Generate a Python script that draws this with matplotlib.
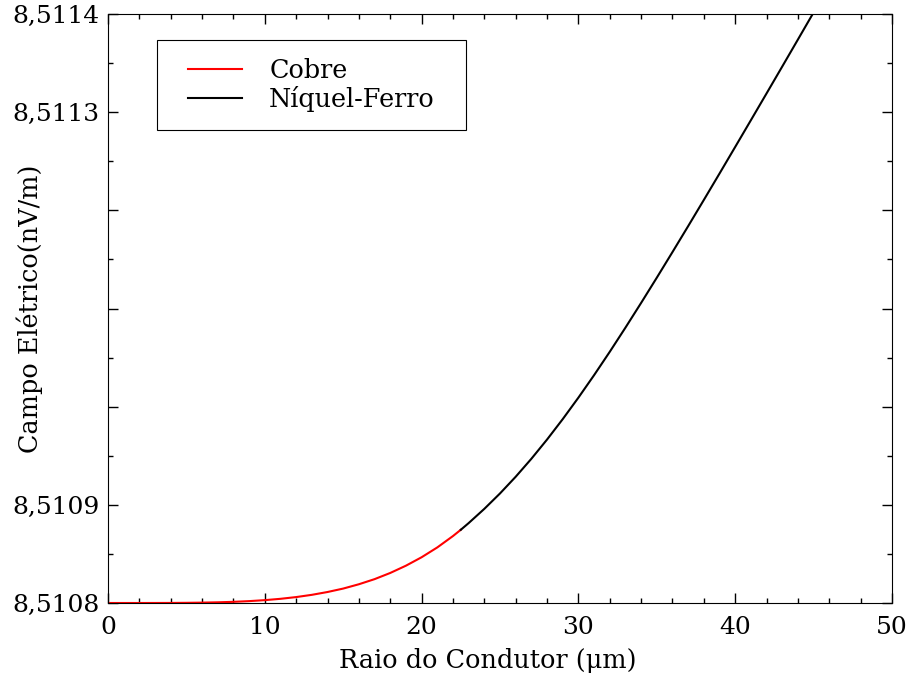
import matplotlib
matplotlib.use("Agg")
import matplotlib.pyplot as plt
from matplotlib.ticker import FixedLocator, MultipleLocator
from matplotlib.patches import Rectangle

# Raio do condutor (µm) and field offset above 8,5108 nV/m (in units of 1e-4)
r_cobre = [0, 1, 2, 3, 4, 5, 6, 7, 8, 9, 10, 11, 12, 13, 14, 15, 16, 17, 18,
           19, 20, 21, 22, 22.5]
d_cobre = [0.0, 0.00003, 0.00005, 0.00024, 0.0007, 0.0018, 0.0038, 0.007,
           0.0119, 0.0191, 0.0291, 0.0426, 0.0604, 0.0832, 0.112, 0.147,
           0.191, 0.243, 0.306, 0.380, 0.466, 0.566, 0.682, 0.746]

r_nife = [22.5, 23, 24, 25, 26, 27, 28, 29, 30, 31, 32, 33, 34, 35, 36, 37,
          38, 39, 40, 41, 42, 43, 44, 45, 46]
d_nife = [0.746, 0.814, 0.959, 1.116, 1.286, 1.469, 1.665, 1.873, 2.092,
          2.321, 2.559, 2.805, 3.057, 3.314, 3.575, 3.839, 4.106, 4.375,
          4.646, 4.918, 5.191, 5.465, 5.740, 6.016, 6.293]

base = 8.5108
y_cobre = [base + d * 1e-4 for d in d_cobre]
y_nife = [base + d * 1e-4 for d in d_nife]

ytick_vals = [8.5108, 8.5109, 8.5110, 8.5111, 8.5112, 8.5113, 8.5114]
ytick_labels = ["8,5108", "8,5109", "", "", "", "8,5113", "8,5114"]

plt.rcParams['font.family'] = ['DejaVu Serif']

W, H = 908, 681
fig = plt.figure(figsize=(W / 100, H / 100), dpi=100)
ax = fig.add_axes([108 / W, 1 - 603 / H, (892 - 108) / W, (603 - 14) / H])

ax.plot(r_cobre, y_cobre, color='red', lw=1.5, label='Cobre')
ax.plot(r_nife, y_nife, color='black', lw=1.5, label='Níquel-Ferro')

ax.set_xlim(0, 50)
ax.set_ylim(8.5108, 8.5114)
ax.xaxis.set_major_locator(MultipleLocator(10))
ax.xaxis.set_minor_locator(MultipleLocator(2))
ax.yaxis.set_major_locator(FixedLocator(ytick_vals))
ax.set_yticklabels(ytick_labels)
ax.yaxis.set_minor_locator(FixedLocator([v + 0.00005 for v in ytick_vals[:-1]]))

ax.tick_params(which='both', direction='in', top=True, right=True, width=1)
ax.tick_params(which='major', length=7, labelsize=18)
ax.tick_params(axis='x', which='major', pad=9.5)
ax.tick_params(axis='y', which='major', pad=6)
ax.tick_params(which='minor', length=3.5)

ax.set_xlabel('Raio do Condutor (μm)', fontsize=18.4)
ax.xaxis.set_label_coords(0.4847, -0.0764)
ax.xaxis.label.set_va('top')
ax.set_ylabel('Campo Elétrico(nV/m)', fontsize=18.4)
ax.yaxis.set_label_coords(-0.0825, 0.5)

fs = 18.4
leg = ax.legend(loc='upper left', bbox_to_anchor=(170.5 / W, 1 - 40 / H),
                bbox_transform=fig.transFigure, fontsize=fs, frameon=False,
                handlelength=2.08, handletextpad=1.08, borderpad=0.70,
                labelspacing=0.12, borderaxespad=0)

fig.canvas.draw()
bb = leg.get_window_extent()
extra = 13.5
rect = Rectangle((bb.x0 - extra, bb.y0), bb.width + 2 * extra, bb.height,
                 transform=None, fill=False, edgecolor='black', lw=0.8,
                 zorder=5)
fig.patches.append(rect)

fig.savefig('out.png', dpi=100)
